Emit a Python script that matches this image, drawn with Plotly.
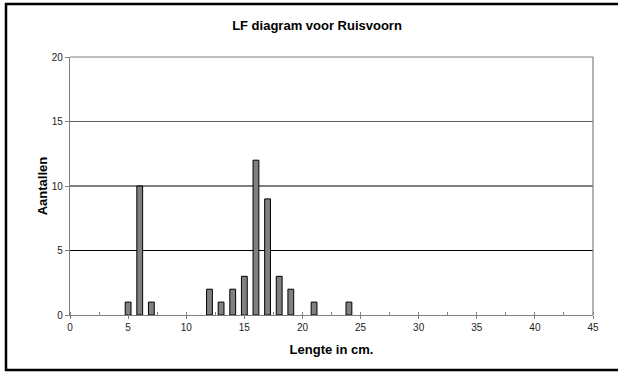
import plotly.graph_objects as go

# Length-frequency counts for Ruisvoorn (rudd)
lengths_cm = [5, 6, 7, 12, 13, 14, 15, 16, 17, 18, 19, 21, 24]
counts = [1, 10, 1, 2, 1, 2, 3, 12, 9, 3, 2, 1, 1]

x_ticks = [0, 5, 10, 15, 20, 25, 30, 35, 40, 45]
y_ticks = [0, 5, 10, 15, 20]
grid_values = [5, 10, 15]
grid_colors = ["#000000", "#000000", "#606060"]

W, H = 618, 372
ML, MR, MT, MB = 70, 25, 57, 57
PW, PH = W - ML - MR, H - MT - MB


def px_to_paper_x(px):
    return (px - ML) / PW


def px_to_paper_y(py):
    return (H - MB - py) / PH


font = "Liberation Sans, Arial, sans-serif"

fig = go.Figure(
    go.Bar(
        x=lengths_cm,
        y=counts,
        width=0.5,
        marker=dict(color="#808080", line=dict(color="#000000", width=1)),
    )
)

shapes = [
    dict(type="line", xref="paper", yref="y", x0=0, x1=1, y0=v, y1=v,
         layer="below", line=dict(color=c, width=1.2))
    for v, c in zip(grid_values, grid_colors)
]
shapes += [
    # plot-area border on the top and right
    dict(type="line", xref="paper", yref="paper", x0=0, x1=1, y0=1, y1=1,
         line=dict(color="#808080", width=1.2)),
    dict(type="line", xref="paper", yref="paper", x0=1, x1=1, y0=0, y1=1,
         line=dict(color="#808080", width=1.2)),
    # outer chart frame
    dict(type="rect", xref="paper", yref="paper",
         x0=px_to_paper_x(6), x1=px_to_paper_x(632),
         y0=px_to_paper_y(370), y1=px_to_paper_y(4),
         line=dict(color="#000000", width=2.5), fillcolor="rgba(0,0,0,0)"),
]

fig.update_layout(
    width=W,
    height=H,
    margin=dict(l=ML, r=MR, t=MT, b=MB),
    paper_bgcolor="white",
    plot_bgcolor="white",
    showlegend=False,
    font=dict(family=font, size=10, color="#222222"),
    title=dict(
        text="<b>LF diagram voor Ruisvoorn</b>",
        x=px_to_paper_x(317),
        xref="paper",
        xanchor="center",
        y=1 - 25 / H,
        yanchor="middle",
        font=dict(family=font, size=13, color="#000000"),
    ),
    xaxis=dict(
        range=[0, 45],
        tickvals=x_ticks,
        ticks="outside",
        ticklen=3,
        tickcolor="#808080",
        showline=True,
        linecolor="#808080",
        linewidth=1.2,
        showgrid=False,
        zeroline=False,
        minor=dict(dtick=2.5, tick0=0, ticks="inside", ticklen=3, tickcolor="#808080", showgrid=False),
        title=dict(text="<b>Lengte in cm.</b>", font=dict(family=font, size=13, color="#000000"), standoff=12),
    ),
    yaxis=dict(
        range=[0, 20],
        tickvals=y_ticks,
        ticks="outside",
        ticklen=4,
        tickcolor="#808080",
        showline=True,
        linecolor="#808080",
        linewidth=1.2,
        showgrid=False,
        zeroline=False,
        title=dict(text="<b>Aantallen</b>", font=dict(family=font, size=13, color="#000000"), standoff=1),
    ),
    shapes=shapes,
)

fig.write_html("out.html")
